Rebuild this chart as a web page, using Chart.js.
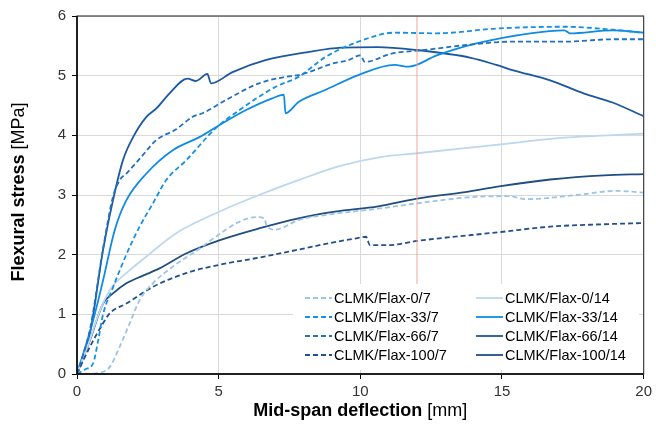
<!doctype html>
<html>
<head>
<meta charset="utf-8">
<title>Flexural stress vs mid-span deflection</title>
<script src="https://cdn.jsdelivr.net/npm/chart.js@4.4.1/dist/chart.umd.min.js"></script>
<style>
  html, body { margin: 0; padding: 0; background: #fff; }
  #wrap { width: 656px; height: 435px; }
</style>
</head>
<body>
<div id="wrap"><canvas id="canvas1" width="656" height="435"></canvas></div>
<script>
// deflection [mm] / flexural stress [MPa]
var x_0_7 = [0, 0.8, 1.16, 1.51, 1.86, 2.21, 2.68, 3.38, 4.32, 4.9, 5.72, 6.3, 6.6, 6.71, 7.0, 7.82, 9.0, 10.63, 12.0, 14.1, 15.3, 15.8, 17.65, 19.05, 20];
var y_0_7 = [0, 0.02, 0.12, 0.46, 0.85, 1.24, 1.52, 1.8, 2.1, 2.3, 2.55, 2.63, 2.61, 2.47, 2.42, 2.58, 2.68, 2.77, 2.86, 2.97, 2.98, 2.93, 3.0, 3.07, 3.04];

var x_0_14 = [0, 0.4, 0.8, 1.16, 1.74, 2.45, 3.5, 5.02, 6.42, 7.82, 9.23, 10.75, 12.0, 14.8, 17.2, 20];
var y_0_14 = [0, 0.5, 1.05, 1.41, 1.69, 1.97, 2.36, 2.72, 3.0, 3.25, 3.48, 3.64, 3.7, 3.84, 3.96, 4.03];

var x_33_7 = [0, 0.3, 0.57, 0.75, 0.92, 1.27, 1.74, 2.21, 2.68, 3.15, 3.85, 4.9, 5.72, 7.0, 7.82, 8.76, 9.93, 11.2, 12.7, 14.8, 17.2, 18.9, 20];
var y_33_7 = [0, 0.08, 0.18, 0.57, 1.0, 1.45, 2.0, 2.47, 2.86, 3.25, 3.58, 4.12, 4.42, 4.81, 4.98, 5.31, 5.57, 5.72, 5.71, 5.79, 5.82, 5.77, 5.72];

var x_33_14 = [0, 0.57, 0.92, 1.33, 1.74, 2.45, 3.38, 4.32, 5.02, 5.95, 6.89, 7.3, 7.36, 7.82, 8.76, 9.93, 11.2, 11.7, 12.7, 14.1, 16.0, 17.2, 17.4, 18.9, 20];
var y_33_14 = [0, 0.9, 1.57, 2.41, 2.91, 3.36, 3.75, 3.97, 4.17, 4.42, 4.62, 4.68, 4.37, 4.56, 4.76, 5.01, 5.18, 5.15, 5.34, 5.54, 5.71, 5.76, 5.71, 5.76, 5.72];

var x_66_7 = [0, 0.46, 0.92, 1.27, 1.51, 1.74, 2.2, 2.8, 3.5, 4.08, 4.43, 5.25, 6.42, 7.36, 7.82, 8.18, 9.0, 9.58, 10.0, 10.16, 11.1, 12.27, 13.67, 15.4, 17.2, 18.9, 20];
var y_66_7 = [0, 0.75, 2.1, 2.97, 3.25, 3.36, 3.6, 3.92, 4.1, 4.31, 4.37, 4.59, 4.87, 4.98, 5.01, 5.06, 5.2, 5.26, 5.34, 5.23, 5.37, 5.43, 5.51, 5.57, 5.57, 5.61, 5.61];

var x_66_14 = [0, 0.46, 0.92, 1.27, 1.62, 1.98, 2.45, 2.8, 3.26, 3.9, 4.2, 4.6, 4.73, 5.49, 6.65, 8.2, 9.33, 10.6, 12.0, 13.9, 14.8, 15.4, 16.7, 17.9, 18.9, 20];
var y_66_14 = [0, 0.69, 2.08, 2.91, 3.58, 3.97, 4.31, 4.45, 4.7, 4.95, 4.91, 5.03, 4.87, 5.06, 5.26, 5.4, 5.47, 5.48, 5.43, 5.3, 5.18, 5.09, 4.92, 4.7, 4.55, 4.32];

var x_100_7 = [0, 0.46, 0.92, 1.16, 1.74, 2.68, 3.85, 5.02, 6.3, 7.47, 8.88, 9.81, 10.2, 10.34, 11.0, 12.0, 14.96, 16.7, 18.6, 20];
var y_100_7 = [0, 0.46, 0.85, 1.02, 1.18, 1.46, 1.69, 1.83, 1.94, 2.05, 2.19, 2.27, 2.3, 2.16, 2.16, 2.23, 2.38, 2.47, 2.51, 2.53];

var x_100_14 = [0, 0.46, 0.92, 1.27, 1.74, 2.09, 2.91, 3.85, 5.02, 6.42, 7.82, 9.11, 10.63, 12.0, 13.7, 14.96, 16.7, 18.6, 20];
var y_100_14 = [0, 0.57, 1.18, 1.35, 1.52, 1.6, 1.77, 2.02, 2.24, 2.44, 2.61, 2.72, 2.81, 2.94, 3.05, 3.15, 3.26, 3.33, 3.35];

// thin red marker line in the original
var x_marker = [12, 12];
var y_marker = [1.5, 6];

var seriesNames = ['CLMK/Flax-0/7', 'CLMK/Flax-33/7', 'CLMK/Flax-66/7', 'CLMK/Flax-100/7',
                   'CLMK/Flax-0/14', 'CLMK/Flax-33/14', 'CLMK/Flax-66/14', 'CLMK/Flax-100/14'];
var xTicks = [0, 5, 10, 15, 20];
var yTicks = [0, 1, 2, 3, 4, 5, 6];

function pts(xs, ys) {
    var out = [];
    for (var i = 0; i < xs.length; i++) out.push({x: xs[i], y: ys[i]});
    return out;
}

function line(label, xs, ys, color, dashed) {
    return {
        label: label,
        data: pts(xs, ys),
        borderColor: color,
        backgroundColor: color,
        borderWidth: 1.8,
        borderDash: dashed ? [5, 3] : [],
        pointRadius: 0,
        fill: false,
        cubicInterpolationMode: 'monotone'
    };
}

var datasets = [
    line(seriesNames[0], x_0_7, y_0_7, '#9dc3e6', true),
    line(seriesNames[1], x_33_7, y_33_7, '#1690e6', true),
    line(seriesNames[2], x_66_7, y_66_7, '#2270c0', true),
    line(seriesNames[3], x_100_7, y_100_7, '#23508a', true),
    line(seriesNames[4], x_0_14, y_0_14, '#bdd7ee', false),
    line(seriesNames[5], x_33_14, y_33_14, '#0d8ce2', false),
    line(seriesNames[6], x_66_14, y_66_14, '#1c58a0', false),
    line(seriesNames[7], x_100_14, y_100_14, '#1f4e80', false)
];
datasets.unshift({
    label: 'marker', data: pts(x_marker, y_marker), borderColor: '#f2a49c',
    borderWidth: 1, pointRadius: 0, fill: false
});

var FONT = "'Liberation Sans', Arial, sans-serif";

// plot frame, legend and the mixed bold / normal axis titles
var extras = {
    id: 'extras',
    afterDatasetsDraw: function(chart) {
        var ctx = chart.ctx, a = chart.chartArea;
        ctx.save();
        // legend box
        ctx.fillStyle = '#fff';
        ctx.fillRect(293, 284, 346, 86);
        ctx.font = '14.5px ' + FONT;
        ctx.textBaseline = 'middle';
        ctx.fillStyle = '#000';
        var rows = [298, 317, 336, 355];
        for (var i = 1; i < chart.data.datasets.length; i++) {
            var ds = chart.data.datasets[i];
            var k = i - 1, col = Math.floor(k / 4), r = k % 4;
            var x0 = col === 0 ? 305 : 476, y0 = rows[r];
            ctx.strokeStyle = ds.borderColor;
            ctx.lineWidth = 1.8;
            ctx.setLineDash(ds.borderDash);
            ctx.beginPath();
            ctx.moveTo(x0, y0);
            ctx.lineTo(x0 + 27, y0);
            ctx.stroke();
            ctx.setLineDash([]);
            ctx.fillText(ds.label, x0 + 29, y0 + 1);
        }
        // frame
        ctx.strokeStyle = '#404040';
        ctx.lineWidth = 1.2;
        ctx.strokeRect(a.left, a.top, a.right - a.left, a.bottom - a.top);
        ctx.strokeStyle = '#000';
        ctx.lineWidth = 1.5;
        ctx.beginPath();
        ctx.moveTo(a.left, a.top);
        ctx.lineTo(a.left, a.bottom);
        ctx.lineTo(a.right, a.bottom);
        ctx.stroke();
        ctx.restore();
    },
    afterDraw: function(chart) {
        var ctx = chart.ctx, a = chart.chartArea;
        ctx.save();
        ctx.fillStyle = '#000';
        ctx.textBaseline = 'middle';
        // x title
        var b = 'Mid-span deflection', n = ' [mm]';
        ctx.font = 'bold 18px ' + FONT;
        var wb = ctx.measureText(b).width;
        ctx.font = '18px ' + FONT;
        var wn = ctx.measureText(n).width;
        var sx = (a.left + a.right) / 2 - (wb + wn) / 2;
        ctx.font = 'bold 18px ' + FONT;
        ctx.fillText(b, sx, 411);
        ctx.font = '18px ' + FONT;
        ctx.fillText(n, sx + wb, 411);
        // y title
        b = 'Flexural stress'; n = ' [MPa]';
        ctx.translate(19, 192);
        ctx.rotate(-Math.PI / 2);
        ctx.font = 'bold 18px ' + FONT;
        wb = ctx.measureText(b).width;
        ctx.font = '18px ' + FONT;
        wn = ctx.measureText(n).width;
        sx = -(wb + wn) / 2;
        ctx.font = 'bold 18px ' + FONT;
        ctx.fillText(b, sx, 0);
        ctx.font = '18px ' + FONT;
        ctx.fillText(n, sx + wb, 0);
        ctx.restore();
    }
};

window.onload = function() {
    var ctx1 = document.getElementById('canvas1').getContext('2d');
    window.myChart = new Chart(ctx1, {
        type: 'line',
        data: { datasets: datasets },
        plugins: [extras],
        options: {
            responsive: false,
            animation: false,
            layout: { padding: { left: 0, right: 9, top: 16, bottom: 0 } },
            plugins: {
                legend: { display: false },
                tooltip: { enabled: false }
            },
            scales: {
                x: {
                    type: 'linear',
                    min: 0, max: 20,
                    afterBuildTicks: function(s) { s.ticks = xTicks.map(function(v) { return {value: v}; }); },
                    afterFit: function(s) { s.height = 61; },
                    grid: { color: '#d9d9d9', lineWidth: 1, tickColor: '#000', tickLength: 5 },
                    border: { display: false },
                    ticks: { color: '#333', font: { family: FONT, size: 15 }, padding: 4 }
                },
                y: {
                    type: 'linear',
                    min: 0, max: 6,
                    afterBuildTicks: function(s) { s.ticks = yTicks.map(function(v) { return {value: v}; }); },
                    afterFit: function(s) { s.width = 77; },
                    grid: { color: '#d9d9d9', lineWidth: 1, tickColor: '#000', tickLength: 5 },
                    border: { display: false },
                    ticks: { color: '#333', font: { family: FONT, size: 15 }, padding: 6 }
                }
            }
        }
    });
};
</script>
</body>
</html>
